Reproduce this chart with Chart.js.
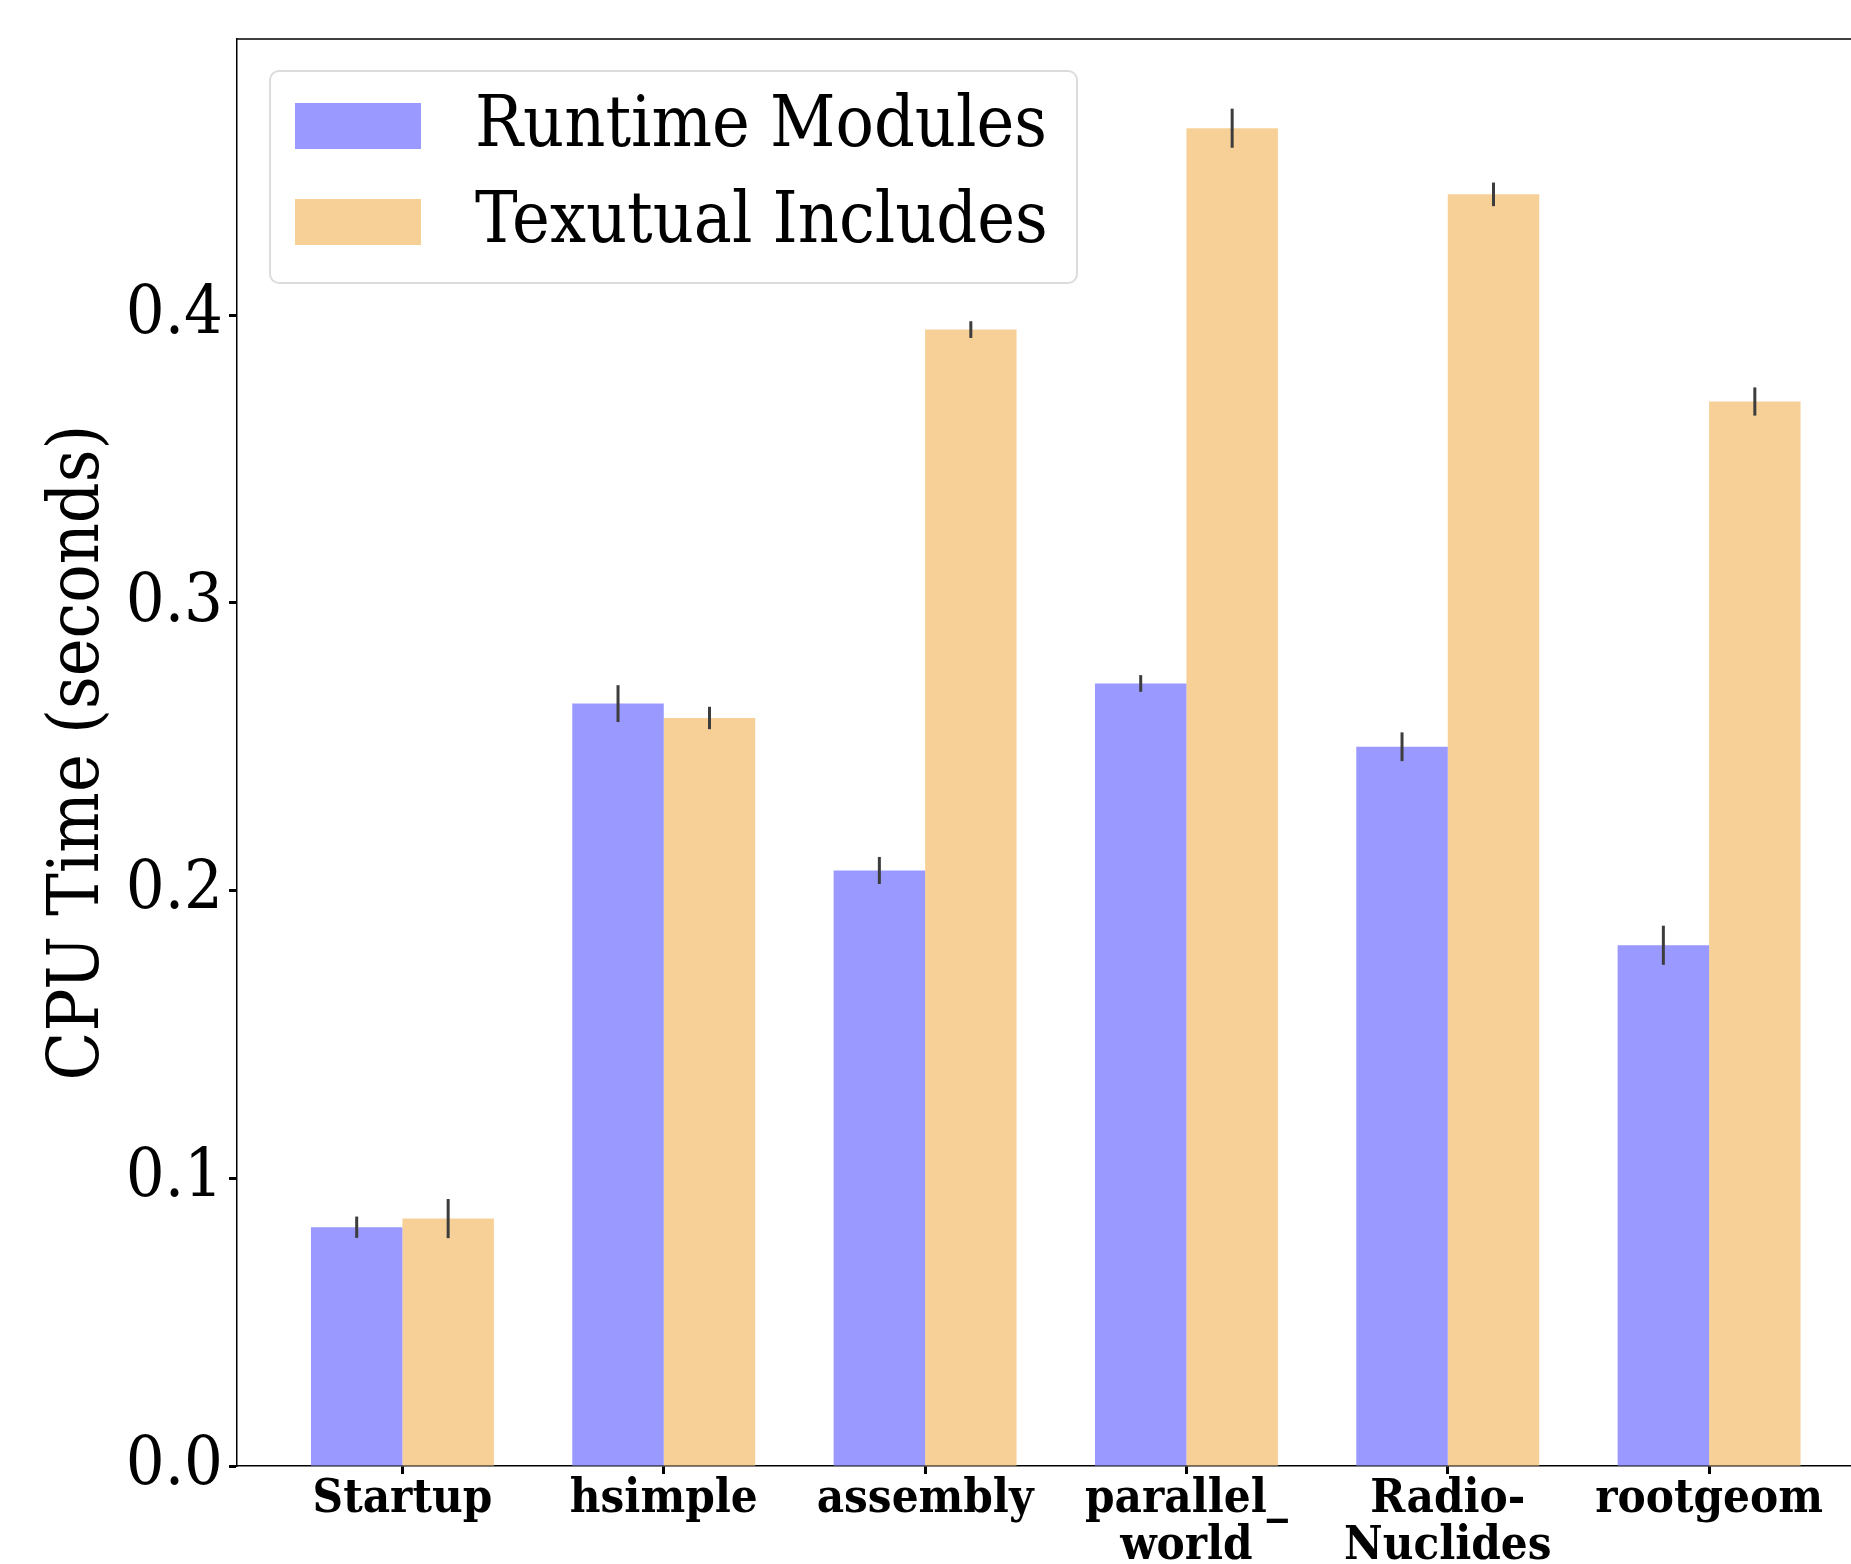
<!DOCTYPE html>
<html>
<head>
<meta charset="utf-8">
<script src="https://cdn.jsdelivr.net/npm/chart.js@4.4.1/dist/chart.umd.min.js"></script>
<style>
  html, body { margin: 0; padding: 0; background: #fff; overflow: hidden; }
  #wrap { width: 1851px; height: 1564px; }
</style>
</head>
<body>
<div id="wrap"><canvas id="chart"></canvas></div>
<script>
// Benchmarks on the x axis
const categories = ["Startup", "hsimple", "assembly", "parallel_world", "RadioNuclides", "rootgeom"];
const tickLabels = [["Startup"], ["hsimple"], ["assembly"], ["parallel_", "world"], ["Radio-", "Nuclides"], ["rootgeom"]];

// CPU time (seconds) and error bar half-widths
const runtimeModules = [0.083, 0.265, 0.207, 0.272, 0.250, 0.181];
const runtimeErr = [0.0037, 0.0064, 0.0047, 0.0029, 0.0050, 0.0068];
const textualIncludes = [0.086, 0.260, 0.395, 0.465, 0.442, 0.370];
const textualErr = [0.0068, 0.0039, 0.0029, 0.0068, 0.0041, 0.0049];

const yTicks = [0, 0.1, 0.2, 0.3, 0.4];

const serif = '"DejaVu Serif Condensed", "DejaVu Serif", serif';

// draws the vertical error bars on top of each bar
const errorBars = {
  id: "errorBars",
  afterDatasetsDraw(chart) {
    const ctx = chart.ctx;
    const y = chart.scales.y;
    ctx.save();
    ctx.strokeStyle = "#3d3d3d";
    ctx.lineWidth = 3;
    chart.data.datasets.forEach((ds, di) => {
      const meta = chart.getDatasetMeta(di);
      meta.data.forEach((bar, i) => {
        const v = ds.data[i].y;
        const e = ds.errors[i];
        ctx.beginPath();
        ctx.moveTo(bar.x, y.getPixelForValue(v + e));
        ctx.lineTo(bar.x, y.getPixelForValue(v - e));
        ctx.stroke();
      });
    });
    ctx.restore();
  }
};

// top spine
const topSpine = {
  id: "topSpine",
  afterDraw(chart) {
    const ctx = chart.ctx;
    const a = chart.chartArea;
    ctx.save();
    ctx.strokeStyle = "#000";
    ctx.lineWidth = 1.5;
    ctx.beginPath();
    ctx.moveTo(a.left, a.top);
    ctx.lineTo(a.right, a.top);
    ctx.stroke();
    ctx.restore();
  }
};

// matplotlib style legend in the upper left of the plot
const innerLegend = {
  id: "innerLegend",
  afterDatasetsDraw(chart) {
    const a = chart.chartArea;
    const ctx = chart.ctx;
    const x = a.left + 33, top = a.top + 32;
    ctx.save();
    ctx.fillStyle = "rgba(255,255,255,0.8)";
    ctx.strokeStyle = "#dcdcdc";
    ctx.lineWidth = 2;
    ctx.beginPath();
    ctx.roundRect(x, top, 807, 212, 9);
    ctx.fill();
    ctx.stroke();
    ctx.font = "71px " + serif;
    ctx.textBaseline = "middle";
    chart.data.datasets.forEach((ds, i) => {
      const cy = top + 55 + i * 96;
      ctx.fillStyle = ds.backgroundColor;
      ctx.fillRect(x + 25, cy - 23, 126, 46);
      ctx.fillStyle = "#000";
      ctx.fillText(ds.label, x + 205, cy + 2);
    });
    ctx.restore();
  }
};

new Chart(document.getElementById("chart"), {
  type: "bar",
  data: {
    datasets: [
      {
        label: "Runtime Modules",
        data: runtimeModules.map((v, i) => ({ x: i, y: v })),
        errors: runtimeErr,
        backgroundColor: "#9999ff",
        borderWidth: 0
      },
      {
        label: "Texutual Includes",
        data: textualIncludes.map((v, i) => ({ x: i, y: v })),
        errors: textualErr,
        backgroundColor: "#f7d098",
        borderWidth: 0
      }
    ]
  },
  options: {
    responsive: true,
    maintainAspectRatio: false,
    animation: false,
    devicePixelRatio: 1,
    categoryPercentage: 0.7,
    barPercentage: 1.0,
    layout: { padding: { top: 39, right: 0, left: 0, bottom: 0 } },
    plugins: {
      legend: { display: false },
      tooltip: { enabled: false }
    },
    scales: {
      x: {
        type: "linear",
        min: -0.633,
        max: 5.543,
        offset: false,
        afterBuildTicks: (s) => { s.ticks = categories.map((_, i) => ({ value: i })); },
        afterFit: (s) => { s.height = 98; },
        grid: { offset: false, drawOnChartArea: false, drawTicks: true, tickLength: 8, tickWidth: 3, tickColor: "#000" },
        border: { display: true, color: "#000", width: 1.5 },
        ticks: {
          autoSkip: false,
          maxRotation: 0,
          padding: 2,
          color: "#000",
          font: { family: serif, size: 47, weight: "bold", lineHeight: 1.0 },
          callback: (v) => tickLabels[v]
        }
      },
      y: {
        min: 0,
        max: 0.496,
        afterBuildTicks: (s) => { s.ticks = yTicks.map(v => ({ value: v })); },
        afterFit: (s) => { s.width = 237; s.paddingTop = 0; },
        grid: { drawOnChartArea: false, drawTicks: true, tickLength: 8, tickWidth: 3, tickColor: "#000" },
        border: { display: true, color: "#000", width: 1.5 },
        title: {
          display: true,
          text: "CPU Time (seconds)",
          color: "#000",
          font: { family: serif, size: 71 },
          padding: { top: 37, bottom: 0 }
        },
        ticks: {
          padding: 6,
          color: "#000",
          font: { family: serif, size: 68 },
          callback: (v) => v.toFixed(1)
        }
      }
    }
  },
  plugins: [errorBars, topSpine, innerLegend]
});
</script>
</body>
</html>
